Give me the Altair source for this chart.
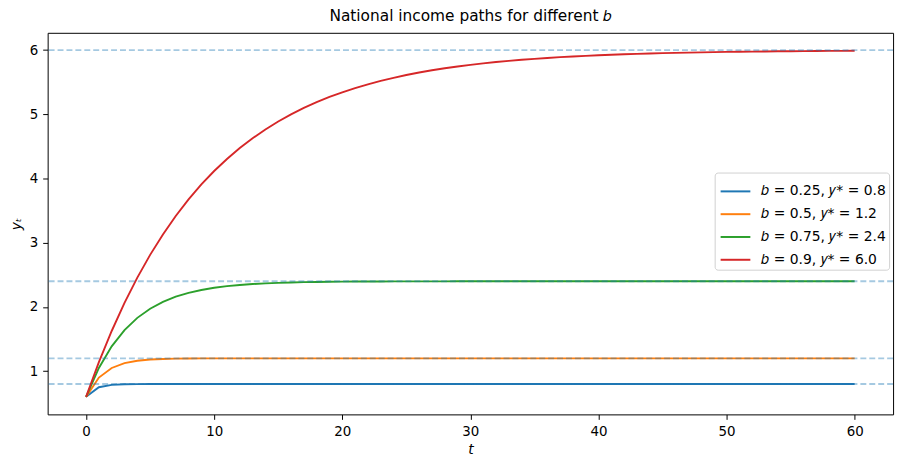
import altair as alt
import pandas as pd

t_vals = list(range(61))

y_b025 = [0.6, 0.75, 0.7875, 0.7969, 0.7992, 0.7998, 0.7999, 0.8, 0.8, 0.8,
          0.8, 0.8, 0.8, 0.8, 0.8, 0.8, 0.8, 0.8, 0.8, 0.8,
          0.8, 0.8, 0.8, 0.8, 0.8, 0.8, 0.8, 0.8, 0.8, 0.8,
          0.8, 0.8, 0.8, 0.8, 0.8, 0.8, 0.8, 0.8, 0.8, 0.8,
          0.8, 0.8, 0.8, 0.8, 0.8, 0.8, 0.8, 0.8, 0.8, 0.8,
          0.8, 0.8, 0.8, 0.8, 0.8, 0.8, 0.8, 0.8, 0.8, 0.8,
          0.8]
y_b05 = [0.6, 0.9, 1.05, 1.125, 1.1625, 1.1813, 1.1906, 1.1953, 1.1977, 1.1988,
         1.1994, 1.1997, 1.1999, 1.1999, 1.2, 1.2, 1.2, 1.2, 1.2, 1.2,
         1.2, 1.2, 1.2, 1.2, 1.2, 1.2, 1.2, 1.2, 1.2, 1.2,
         1.2, 1.2, 1.2, 1.2, 1.2, 1.2, 1.2, 1.2, 1.2, 1.2,
         1.2, 1.2, 1.2, 1.2, 1.2, 1.2, 1.2, 1.2, 1.2, 1.2,
         1.2, 1.2, 1.2, 1.2, 1.2, 1.2, 1.2, 1.2, 1.2, 1.2,
         1.2]
y_b075 = [0.6, 1.05, 1.3875, 1.6406, 1.8305, 1.9728, 2.0796, 2.1597, 2.2198, 2.2648,
          2.2986, 2.324, 2.343, 2.3573, 2.3679, 2.376, 2.382, 2.3865, 2.3899, 2.3924,
          2.3943, 2.3957, 2.3968, 2.3976, 2.3982, 2.3987, 2.399, 2.3992, 2.3994, 2.3996,
          2.3997, 2.3998, 2.4, 2.4, 2.4, 2.4, 2.4, 2.4, 2.4, 2.4,
          2.4, 2.4, 2.4, 2.4, 2.4, 2.4, 2.4, 2.4, 2.4, 2.4,
          2.4, 2.4, 2.4, 2.4, 2.4, 2.4, 2.4, 2.4, 2.4, 2.4,
          2.4]
y_b09 = [0.6, 1.14, 1.626, 2.0634, 2.457, 2.8114, 3.1302, 3.4172, 3.6755, 3.9079,
         4.1171, 4.3054, 4.4749, 4.6274, 4.7647, 4.8882, 4.9994, 5.0994, 5.1895, 5.2705,
         5.3435, 5.4091, 5.4682, 5.5214, 5.5692, 5.6123, 5.6511, 5.686, 5.7174, 5.7456,
         5.7711, 5.794, 5.8146, 5.8331, 5.8498, 5.8648, 5.8783, 5.8905, 5.9015, 5.9113,
         5.9202, 5.9282, 5.9354, 5.9418, 5.9476, 5.9529, 5.9576, 5.9618, 5.9657, 5.9691,
         5.9722, 5.975, 5.9775, 5.9797, 5.9818, 5.9836, 5.9852, 5.9867, 5.988, 5.9892,
         5.9903]

labels = ["𝑏 = 0.25, 𝑦* = 0.8", "𝑏 = 0.5, 𝑦* = 1.2", "𝑏 = 0.75, 𝑦* = 2.4", "𝑏 = 0.9, 𝑦* = 6.0"]
colors = ["#1f77b4", "#ff7f0e", "#2ca02c", "#d62728"]
steady_states = [0.8, 1.2, 2.4, 6.0]

series = [y_b025, y_b05, y_b075, y_b09]
rows = []
for lab, ys in zip(labels, series):
    for t, y in zip(t_vals, ys):
        rows.append({"t": t, "y": y, "series": lab})
df = pd.DataFrame(rows)
df_h = pd.DataFrame({"ystar": steady_states})

FONT = "DejaVu Sans"

x_enc = alt.X("t:Q", scale=alt.Scale(domain=[-3, 63], nice=False, zero=False),
              axis=alt.Axis(values=[0, 10, 20, 30, 40, 50, 60], format="d", title="t",
                            titleFontStyle="italic"))
y_enc = alt.Y("y:Q", scale=alt.Scale(domain=[0.327, 6.27], nice=False, zero=False),
              axis=alt.Axis(values=[1, 2, 3, 4, 5, 6], format="d", title="yₜ",
                            titleFontStyle="italic"))

lines = alt.Chart(df).mark_line(strokeWidth=1.9, clip=True).encode(
    x=x_enc,
    y=y_enc,
    color=alt.Color("series:N",
                    scale=alt.Scale(domain=labels, range=colors),
                    sort=labels,
                    legend=alt.Legend(title=None, orient="none", legendX=673, legendY=141,
                                      symbolType="stroke", symbolSize=900, symbolStrokeWidth=2,
                                      symbolOffset=2,
                                      labelFontSize=14, labelFont=FONT, labelColor="black",
                                      rowPadding=-7, padding=3,
                                      fillColor="white", strokeColor="#d0d0d0",
                                      cornerRadius=3, labelOffset=10)),
)

hlines = alt.Chart(df_h).mark_rule(strokeWidth=1.9, strokeDash=[6, 3], color="#1f77b4", opacity=0.4).encode(
    y=alt.Y("ystar:Q"),
)

chart = alt.layer(lines, hlines).properties(
    width=853, height=385,
    title=alt.TitleParams("National income paths for different 𝑏", fontSize=15.5, font=FONT,
                          fontWeight="normal", color="black", anchor="middle", offset=8),
    padding={"left": 40, "top": 23, "right": 9, "bottom": 45},
    autosize=alt.AutoSizeParams(type="none"),
).configure_view(stroke="black", strokeWidth=1).configure_axis(
    grid=False, domain=False, tickColor="black", tickSize=5, tickWidth=1,
    labelFontSize=13.5, labelFont=FONT, labelColor="black", labelPadding=5,
    titleFontSize=14, titleFont=FONT, titleFontWeight="normal", titleColor="black",
).configure_axisY(titlePadding=6).configure_axisX(titlePadding=5)

chart.save("out.html", embed_options={"renderer": "svg", "actions": False})
